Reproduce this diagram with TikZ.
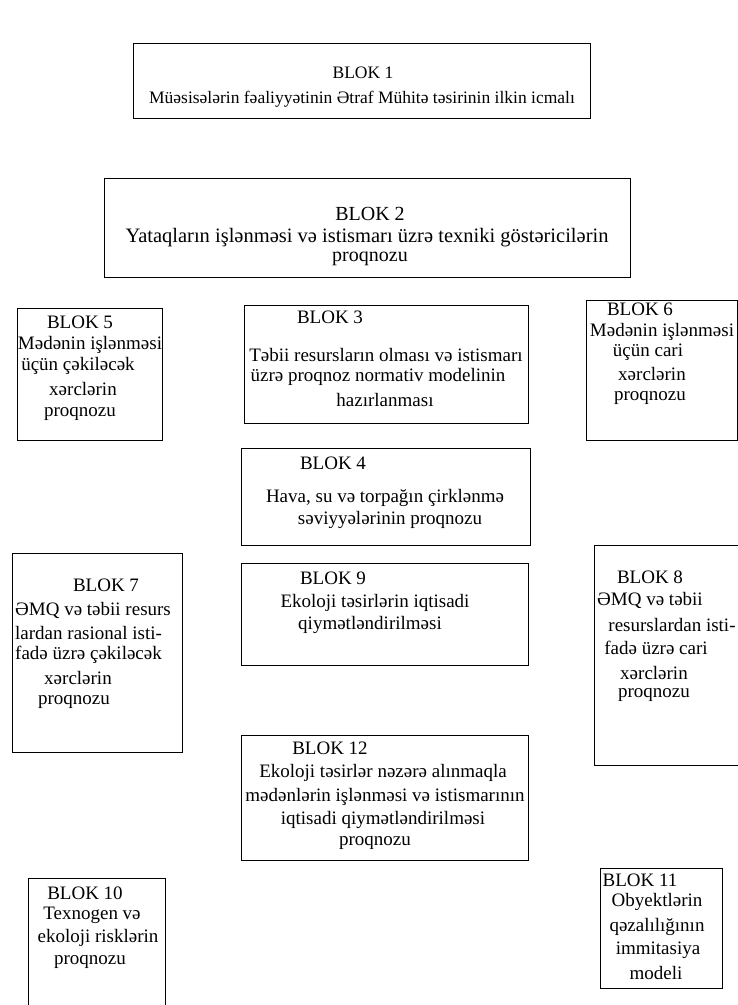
\documentclass[tikz,border=0pt]{standalone}
\usepackage{fontspec}
\setmainfont{Liberation Serif}
\begin{document}
\begin{tikzpicture}[x=1pt,y=-1pt,
  blok/.style={draw=black, line width=1.1pt, inner sep=0pt, anchor=north west},
  txt/.style={font=\fontsize{19}{22}\selectfont, inner sep=0pt, anchor=center},
  txtsize/.style={font=\fontsize{#1}{#1}\selectfont}]
\useasboundingbox (0,0) rectangle (738,1005);
\clip (0,0) rectangle (738,1005);

% BLOK 1
\node[blok, minimum width=457pt, minimum height=75pt] (b1) at (133,43) {};
\node[txt, txtsize=17.5] (b1h) at (363,73) {BLOK 1};
\node[txt, txtsize=17.5] (b1a) at (362,99) {Müəsisələrin fəaliyyətinin Ətraf Mühitə təsirinin ilkin icmalı};

% BLOK 2
\node[blok, minimum width=526pt, minimum height=99pt] (b2) at (104,178) {};
\node[txt, txtsize=20] (b2h) at (370,214) {BLOK 2};
\node[txt, txtsize=20.5] (b2a) at (367,238) {Yataqların işlənməsi və istismarı üzrə texniki göstəricilərin};
\node[txt, txtsize=20] (b2b) at (370,259) {proqnozu};

% BLOK 5
\node[blok, minimum width=145pt, minimum height=132pt] (b5) at (17,308) {};
\node[txt] (b5h) at (80,322) {BLOK 5};
\node[txt] (b5a) at (90,345) {Mədənin işlənməsi};
\node[txt] (b5b) at (78,366) {üçün çəkiləcək};
\node[txt] (b5c) at (83,389) {xərclərin};
\node[txt] (b5d) at (80,414) {proqnozu};

% BLOK 3
\node[blok, minimum width=284pt, minimum height=118pt] (b3) at (244,305) {};
\node[txt] (b3h) at (330,317) {BLOK 3};
\node[txt] (b3a) at (386,355) {Təbii resursların olması və istismarı};
\node[txt] (b3b) at (378,377) {üzrə proqnoz normativ modelinin};
\node[txt] (b3c) at (385,400) {hazırlanması};

% BLOK 6
\node[blok, minimum width=151pt, minimum height=140pt] (b6) at (586,300) {};
\node[txt] (b6h) at (640,309) {BLOK 6};
\node[txt] (b6a) at (662,332) {Mədənin işlənməsi};
\node[txt] (b6b) at (648,352) {üçün cari};
\node[txt] (b6c) at (652,374) {xərclərin};
\node[txt] (b6d) at (650,398) {proqnozu};

% BLOK 4
\node[blok, minimum width=289pt, minimum height=97pt] (b4) at (241,448) {};
\node[txt] (b4h) at (333,463) {BLOK 4};
\node[txt] (b4a) at (385,498) {Hava, su və torpağın çirklənmə};
\node[txt] (b4b) at (390,520) {səviyyələrinin proqnozu};

% BLOK 9
\node[blok, minimum width=287pt, minimum height=102pt] (b9) at (241,563) {};
\node[txt] (b9h) at (333,578) {BLOK 9};
\node[txt] (b9a) at (375,603) {Ekoloji təsirlərin iqtisadi};
\node[txt] (b9b) at (370,625) {qiymətləndirilməsi};

% BLOK 7
\node[blok, minimum width=170pt, minimum height=199pt] (b7) at (12,553) {};
\node[txt] (b7h) at (106,585) {BLOK 7};
\node[txt, anchor=west] (b7a) at (15,610) {ƏMQ və təbii resurs};
\node[txt, anchor=west] (b7b) at (15,633) {lardan rasional isti-};
\node[txt, anchor=west] (b7c) at (15,655) {fadə üzrə çəkiləcək};
\node[txt] (b7d) at (78,678) {xərclərin};
\node[txt] (b7e) at (74,702) {proqnozu};

% BLOK 8
\node[blok, minimum width=150pt, minimum height=220pt] (b8) at (594,545) {};
\node[txt] (b8h) at (650,577) {BLOK 8};
\node[txt] (b8a) at (650,600) {ƏMQ və təbii};
\node[txt] (b8b) at (672,625) {resurslardan isti-};
\node[txt] (b8c) at (656,648) {fadə üzrə cari};
\node[txt] (b8d) at (654,673) {xərclərin};
\node[txt] (b8e) at (654,695) {proqnozu};

% BLOK 12
\node[blok, minimum width=287pt, minimum height=125pt] (b12) at (241,735) {};
\node[txt] (b12h) at (330,748) {BLOK 12};
\node[txt] (b12a) at (383,773) {Ekoloji təsirlər nəzərə alınmaqla};
\node[txt] (b12b) at (385,797) {mədənlərin işlənməsi və istismarının};
\node[txt] (b12c) at (383,820) {iqtisadi qiymətləndirilməsi};
\node[txt] (b12d) at (375,843) {proqnozu};

% BLOK 10 (runs off the lower edge)
\node[blok, minimum width=137pt, minimum height=140pt] (b10) at (28,878) {};
\node[txt] (b10h) at (85,893) {BLOK 10};
\node[txt] (b10a) at (92,915) {Texnogen və};
\node[txt] (b10b) at (98,938) {ekoloji risklərin};
\node[txt] (b10c) at (90,962) {proqnozu};

% BLOK 11
\node[blok, minimum width=122pt, minimum height=120pt] (b11) at (600,868) {};
\node[txt] (b11h) at (640,880) {BLOK 11};
\node[txt] (b11a) at (657,902) {Obyektlərin};
\node[txt] (b11b) at (657,927) {qəzalılığının};
\node[txt] (b11c) at (658,950) {immitasiya};
\node[txt] (b11d) at (656,973) {modeli};
\end{tikzpicture}
\end{document}
